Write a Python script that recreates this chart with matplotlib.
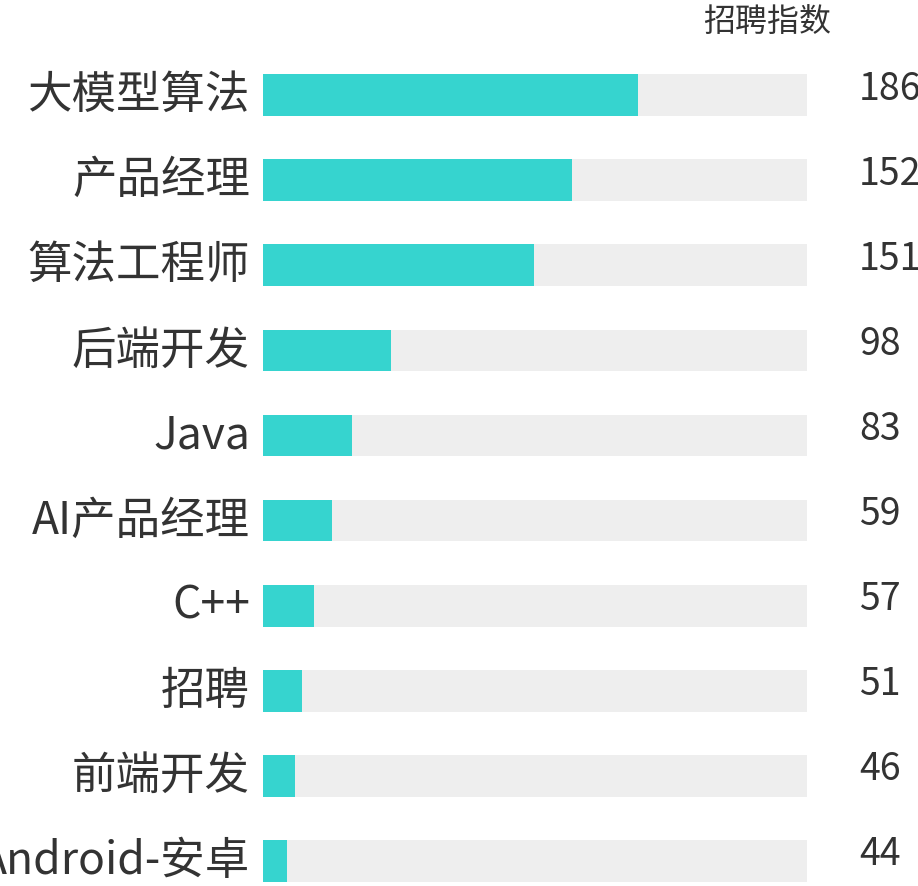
import matplotlib.pyplot as plt

plt.rcParams['font.family'] = ['Noto Sans CJK SC', 'DejaVu Sans']

# data
jobs = ['大模型算法', '产品经理', '算法工程师', '后端开发', 'Java',
        'AI产品经理', 'C++', '招聘', '前端开发', 'Android-安卓']
index_values = [186, 152, 151, 98, 83, 59, 57, 51, 46, 44]
# teal bar length as a share of the grey track (in %)
bar_share = [68.9, 56.8, 49.8, 23.5, 16.4, 12.7, 9.4, 7.2, 5.9, 4.4]
track_max = 100

TEAL = '#36D4CF'
TRACK = '#EEEEEE'
TEXT = '#333333'

fig = plt.figure(figsize=(9.18, 8.86), dpi=100)
ax = fig.add_axes([263 / 918, -0.0198, 544 / 918, 851 / 886])

ypos = list(range(len(jobs)))
ax.barh(ypos, [track_max] * len(jobs), height=0.49, color=TRACK, zorder=1)
ax.barh(ypos, bar_share, height=0.49, color=TEAL, zorder=2)

ax.set_xlim(0, track_max)
ax.set_ylim(len(jobs) - 0.5, -0.5)
ax.axis('off')

for y, name, val in zip(ypos, jobs, index_values):
    ax.annotate(name, xy=(0, y), xytext=(-13, 0), textcoords='offset pixels',
                ha='right', va='center', fontsize=32, color=TEXT,
                annotation_clip=False)
    ax.annotate(str(val), xy=(track_max, y), xytext=(52, 6), textcoords='offset pixels',
                ha='left', va='center', fontsize=27, color=TEXT,
                annotation_clip=False)

fig.text(767 / 918, 1 - 23 / 886, '招聘指数', ha='center', va='center',
         fontsize=23, color=TEXT)

fig.savefig('out.png', dpi=100, facecolor='white')
